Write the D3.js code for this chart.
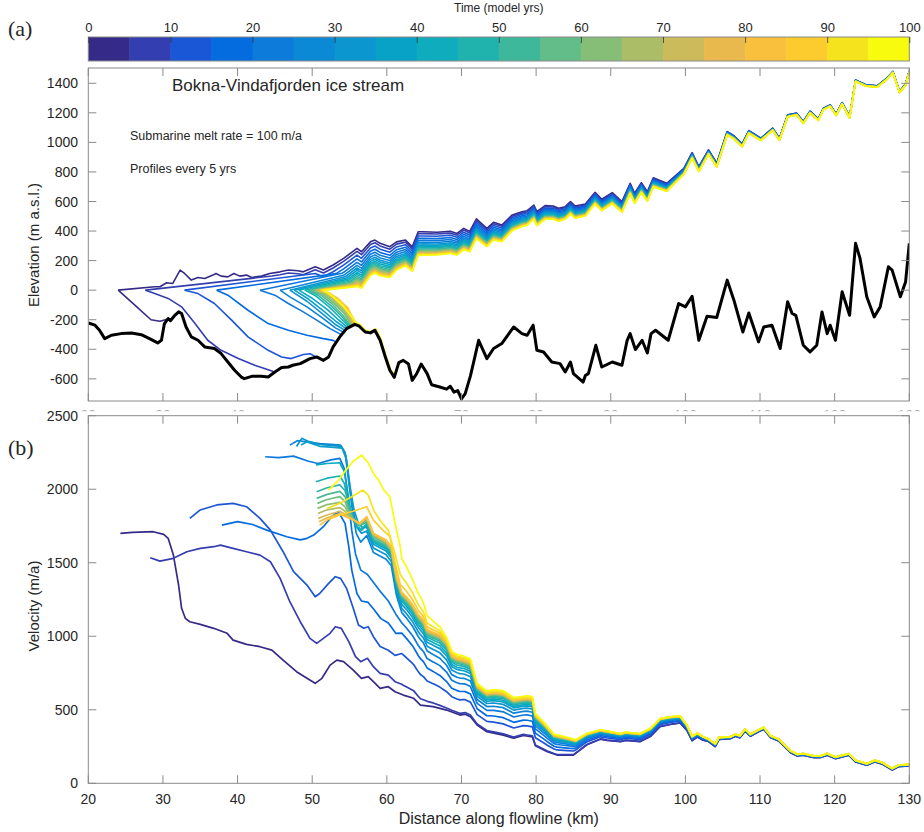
<!DOCTYPE html>
<html><head><meta charset="utf-8">
<script src="https://cdn.jsdelivr.net/npm/d3@7"></script>
<style>body{margin:0;background:#fff}svg{display:block}text{fill:#262626}</style>
</head><body><svg id="c" width="924" height="832"></svg>
<script>
// ---------------- DATA ----------------
const profileTimes = [0,5,10,15,20,25,30,35,40,45,50,55,60,65,70,75,80,85,90,95,100];
const cbTicks = [0,10,20,30,40,50,60,70,80,90,100];
const xTicks = [20,30,40,50,60,70,80,90,100,110,120,130];
const yTicksA = [-600,-400,-200,0,200,400,600,800,1000,1200,1400];
const yTicksB = [0,500,1000,1500,2000,2500];

// bed topography (km, m a.s.l.)
const bed = [[20,-222],[20.9,-237],[21.5,-271],[22.2,-328],[23.1,-305],[24.4,-294],[25.8,-290],[27.1,-301],[28.2,-328],[29.3,-357],[29.8,-339],[30.2,-226],[30.7,-192],[31.0,-207],[31.6,-170],[32.1,-147],[32.5,-158],[33.1,-249],[33.8,-316],[34.7,-339],[35.6,-384],[36.9,-395],[37.8,-429],[38.7,-486],[39.6,-542],[40.5,-588],[40.9,-599],[41.9,-583],[43.2,-583],[44.1,-588],[45.0,-554],[45.9,-524],[46.8,-520],[47.4,-508],[48.4,-497],[49.7,-463],[50.6,-452],[51.5,-475],[52.2,-452],[52.8,-384],[53.7,-316],[54.6,-260],[55.7,-231],[56.3,-244],[57.1,-283],[57.8,-289],[58.4,-271],[59.1,-339],[59.8,-452],[60.4,-542],[61.0,-590],[61.6,-490],[62.2,-475],[62.9,-500],[63.4,-610],[64.0,-565],[64.6,-500],[65.4,-565],[66.0,-640],[67.1,-655],[68.0,-670],[68.5,-650],[69.0,-690],[69.5,-680],[70.0,-735],[70.5,-700],[71.2,-580],[71.8,-450],[72.3,-339],[73.4,-463],[74.3,-395],[75.4,-361],[77.0,-249],[78.1,-294],[78.8,-305],[79.6,-237],[80.1,-407],[81.0,-418],[82.1,-486],[83.2,-497],[83.9,-554],[84.6,-486],[85.0,-565],[86.3,-622],[86.6,-577],[87.0,-565],[88.0,-373],[88.8,-520],[90.2,-486],[91.5,-508],[92.2,-339],[92.6,-294],[93.3,-402],[94.2,-339],[94.9,-425],[95.4,-294],[96.0,-271],[97.7,-339],[99.1,-90],[100.0,-113],[100.9,-41],[101.8,-339],[102.9,-176],[104.2,-185],[105.6,68],[106.5,-68],[107.7,-283],[108.5,-154],[109.8,-350],[110.5,-249],[111.6,-237],[112.7,-395],[113.7,-79],[114.3,-158],[114.8,-170],[115.8,-373],[116.7,-418],[117.6,-373],[118.3,-147],[119.0,-294],[119.4,-237],[120.1,-339],[121.0,-11],[122.0,-170],[122.8,317],[123.4,215],[124.3,-45],[125.3,-181],[126.1,-113],[127.2,158],[127.7,136],[128.8,-45],[129.5,56],[130.0,317]];

// ice surface at t = 0 (km, m)
const surfaceT0 = [[24.0,0],[28.9,23],[29.6,23],[30.5,50],[31.3,45],[32.3,136],[32.9,113],[33.8,68],[34.7,86],[35.6,79],[36.7,102],[37.1,113],[37.8,95],[38.7,90],[39.5,113],[40.3,95],[41.2,102],[41.9,86],[43.2,95],[44.3,113],[45.7,124],[46.8,136],[48.1,131],[48.8,124],[50.4,158],[51.5,136],[52.8,170],[54.2,215],[56.0,283],[56.6,260],[57.8,327],[58.4,339],[59.1,317],[60.4,294],[61.3,327],[62.5,339],[63.4,294],[64.2,395],[64.9,395],[66.7,392],[68.5,398],[69.4,384],[70.3,418],[71.1,398],[72.0,482],[73.4,418],[74.3,459],[75.4,441],[76.8,509],[78.1,531],[78.8,538],[79.7,576],[80.1,531],[81.2,572],[82.3,570],[83.0,554],[83.9,565],[84.6,599],[85.2,570],[86.6,583],[87.9,662],[88.8,615],[90.2,660],[91.5,599],[92.6,723],[93.2,656],[94.1,727],[94.9,666],[95.7,761],[97.5,723],[99.8,825],[100.9,931],[101.8,836],[103.1,949],[104.2,859],[105.6,1073],[106.5,1045],[107.6,990],[108.5,1080],[110.1,1028],[111.7,1096],[112.6,1028],[113.7,1186],[114.9,1198],[115.8,1141],[116.7,1211],[117.8,1160],[118.5,1232],[119.4,1254],[120.2,1192],[121.0,1270],[122.0,1175],[122.8,1422],[124.2,1390],[125.7,1383],[127.0,1435],[127.8,1480],[128.7,1345],[129.5,1395],[130.0,1484]];
// surface lowering between t = 0 and t = 100 (km, m)
const drawdown100 = [[24,250],[50,250],[56,256],[58,225],[60,215],[62,178],[64,160],[68,150],[70,145],[74,120],[78,100],[84,85],[90,75],[96,62],[100,40],[104,25],[110,15],[120,10],[130,8]];
// share of that lowering reached by each profile
const thinFrac = [0,0.08,0.18,0.28,0.37,0.45,0.52,0.58,0.64,0.69,0.74,0.78,0.82,0.85,0.88,0.91,0.93,0.95,0.97,0.985,1.0];
// calving front and surface grounding position of each profile (km)
const frontX  = [24.0,27.65,32.9,37.2,43.0,45.7,47.0,47.6,48.2,49.0,49.4,49.8,50.1,50.4,50.6,50.8,51.0,51.1,51.2,51.3,51.5];
const groundX = [24.0,44.6,50.4,53.2,54.0,54.2,54.4,54.6,54.8,55.0,55.1,55.2,55.3,55.4,55.5,55.6,55.7,55.8,55.9,55.9,55.9];
// ice shelf base of each profile
const shelfBase = [
 [[24.0,0],[26.2,-100],[28.4,-200],[29.6,-210],[30.7,-195]],
 [[27.65,0],[28.9,-23],[30.7,-56],[32.5,-113],[34.3,-226],[36.0,-339],[37.8,-407],[40.1,-463],[42.3,-508],[44.8,-550]],
 [[32.9,0],[34.7,-23],[36.9,-90],[39.2,-203],[41.4,-316],[44.1,-407],[45.9,-452],[47.2,-463],[48.8,-435],[49.7,-430],[50.4,-448]],
 [[37.2,0],[38.7,-34],[41.4,-136],[44.1,-226],[46.8,-271],[49.3,-305],[51.5,-328],[52.8,-340],[53.2,-350]],
 [[43.0,0],[45.0,-34],[46.8,-90],[48.8,-147],[50.6,-203],[52.4,-260],[53.7,-296],[54.0,-298]],
 [[45.7,0],[47.0,-45],[49.3,-113],[51.5,-192],[53.1,-255],[54.2,-285]],
 [[47.0,0],[49.3,-75],[51.5,-165],[53.1,-232],[54.4,-272]],
 [[47.6,0],[49.5,-60],[51.5,-140],[53.2,-212],[54.6,-262]],
 [[48.2,0],[50.0,-55],[52.0,-130],[53.5,-200],[54.8,-255]],
 [[49.0,0],[50.5,-40],[52.3,-115],[53.8,-190],[55.0,-250]],
 [[49.4,0],[50.8,-35],[52.5,-105],[54.0,-180],[55.1,-247]],
 [[49.8,0],[51.1,-30],[52.7,-95],[54.1,-170],[55.2,-244]],
 [[50.1,0],[51.4,-28],[52.9,-88],[54.3,-160],[55.3,-240]],
 [[50.4,0],[51.6,-25],[53.0,-80],[54.4,-150],[55.4,-237]],
 [[50.6,0],[51.8,-22],[53.1,-72],[54.5,-142],[55.5,-234]],
 [[50.8,0],[52.0,-20],[53.2,-65],[54.6,-135],[55.6,-232]],
 [[51.0,0],[52.1,-18],[53.3,-58],[54.7,-128],[55.7,-231]],
 [[51.1,0],[52.2,-17],[53.4,-54],[54.8,-122],[55.8,-230]],
 [[51.2,0],[52.4,-25],[53.7,-75],[55.0,-150],[55.9,-222],[56.4,-236],[57.1,-275]],
 [[51.3,0],[52.6,-35],[54.0,-95],[55.2,-168],[55.9,-222],[56.4,-236],[57.2,-275],[57.9,-282],[58.5,-262],[59.2,-330]],
 [[51.5,0],[52.8,-45],[54.2,-113],[55.3,-181],[55.9,-222],[56.4,-236],[57.2,-275],[57.9,-282],[58.5,-262],[59.2,-330],[59.9,-445],[60.5,-535],[61.0,-570]]
];

// velocity at t = 0 (km, m/a)
const velT0 = [[24.3,1700],[25.9,1707],[28.7,1711],[30.1,1693],[30.7,1666],[31.4,1552],[32.1,1348],[32.5,1190],[33.0,1122],[33.6,1099],[35.0,1081],[36.8,1054],[38.6,1020],[39.4,974],[41.2,945],[43.0,929],[44.6,906],[46.1,838],[47.9,759],[49.3,714],[50.4,680],[51.3,714],[52.4,804],[53.3,838],[54.2,827],[55.5,770],[56.6,714],[57.5,725],[58.2,691],[59.1,646],[60.2,657],[61.1,623],[62.2,600],[63.6,578],[64.5,532],[66.2,521],[68.0,498],[69.8,464],[70.5,470],[71.2,453],[72.1,396],[73.4,351],[75.6,328],[77.0,306],[78.3,325],[79.5,315],[79.9,255],[81.5,215],[82.8,192],[85.0,192],[85.6,215],[86.8,262],[88.6,300],[89.5,292],[91.3,283],[92.0,292],[93.9,283],[95.3,318],[96.6,385],[98.0,400],[99.3,410],[100.2,360],[100.9,290],[101.6,315],[102.3,295],[103.1,284],[104.0,250],[104.5,298],[106.0,303],[106.7,320],[107.3,310],[108.0,355],[108.7,320],[109.6,345],[110.5,368],[111.4,311],[112.5,288],[114.1,208],[115.0,186],[115.8,191],[117.2,175],[118.1,175],[119.0,191],[120.1,168],[121.9,191],[122.8,146],[124.3,123],[125.4,146],[126.4,130],[127.7,91],[128.6,114],[130.0,118]];
// upper edge of the late (orange) velocity bundle
const velRef = [[62.0,1300],[62.6,1270],[63.4,1220],[64.2,1150],[64.9,1110],[65.4,1045],[66.3,1025],[67.1,1010],[68.0,960],[68.7,870],[69.4,850],[70.3,840],[71.2,820],[72.1,660],[73.4,610],[74.3,618],[75.6,610],[77.0,565],[78.8,578],[79.5,570],[79.9,460],[81.1,400],[82.4,325],[84.2,305],[85.3,290],[86.8,335],[88.6,360],[89.5,352],[91.3,335],[92.0,345],[93.9,335],[95.3,370],[96.6,437],[98.0,450],[99.3,455],[100.2,395],[100.9,318],[101.6,340],[102.3,318],[103.1,300],[104.0,268],[104.5,312],[106.0,315],[106.7,333],[107.3,323],[108.0,368],[108.7,333],[109.6,358],[110.5,380],[111.4,323],[112.5,300],[114.1,220],[115.0,197],[115.8,202],[117.2,186],[118.1,186],[119.0,202],[120.1,178],[121.9,201],[122.8,156],[124.3,133],[125.4,156],[126.4,140],[127.7,101],[128.6,124],[130.0,128]];
// position of each profile between velT0 and velRef, at 62 km and from 68 km on
const velFrac62 = [0,0.1,0.4,0.6,0.7,0.8,0.84,0.88,0.91,0.93,0.945,0.955,0.965,0.975,0.98,0.985,0.99,1.0,1.06,1.15,1.33];
const velFrac68 = [0,0.03,0.27,0.42,0.56,0.66,0.74,0.80,0.84,0.88,0.91,0.93,0.95,0.96,0.97,0.98,0.99,1.0,1.02,1.04,1.07];
// velocity near the calving front for each profile (km, m/a)
const velFront = [
 [],
 [[28.3,1534],[29.6,1511],[31.4,1530],[33.2,1575],[35.0,1598],[36.8,1609],[37.7,1620],[39.4,1598],[41.2,1575],[43.0,1552],[44.4,1507],[45.7,1394],[47.0,1235],[48.4,1099],[49.7,986],[50.6,952],[51.5,986],[52.4,1020],[53.1,1065],[53.9,1054],[54.9,963],[55.8,861],[56.5,827],[57.4,850],[58.2,793],[59.1,748],[60.2,736],[61.1,691]],
 [[33.6,1802],[35.0,1859],[37.2,1893],[39.4,1904],[41.2,1881],[43.0,1802],[44.4,1722],[46.1,1575],[47.5,1439],[49.3,1348],[50.4,1269],[51.0,1291],[52.2,1360],[53.1,1405],[53.8,1394],[54.6,1326],[55.5,1190],[56.2,1076],[56.9,1054],[57.5,1065],[58.2,997],[59.1,930],[60.2,905],[61.1,870]],
 [[37.9,1756],[40.0,1780],[42.0,1760],[43.9,1722],[46.6,1677],[48.4,1655],[49.3,1666],[50.2,1688],[51.5,1745],[52.6,1813],[53.5,1847],[54.4,1768],[54.9,1609],[55.3,1450],[56.0,1290],[56.6,1240],[57.5,1230],[58.3,1180],[59.2,1120],[60.2,1090],[61.2,1020]],
 [[43.7,2221],[45.5,2215],[47.5,2225],[49.5,2190],[50.8,2175],[52.5,2200],[53.7,2210],[54.3,2140],[54.8,1950],[55.3,1720],[55.8,1560],[56.5,1450],[57.4,1420],[58.3,1360],[59.2,1300],[60.2,1240],[61.2,1150]],
 [[47.0,2300],[48.0,2330],[49.5,2320],[51.0,2310],[52.5,2305],[53.8,2300],[54.4,2250],[54.9,2050],[55.4,1850],[55.9,1700],[56.5,1640],[57.3,1685],[58.2,1570],[59.9,1524],[60.6,1479],[61.3,1275]],
 [[47.9,2290],[48.6,2346],[49.5,2325],[51.0,2305],[52.5,2298],[53.9,2292],[54.5,2230],[55.0,2030],[55.5,1850],[56.0,1740],[56.6,1700],[57.3,1715],[58.2,1600],[59.9,1554],[60.6,1509],[61.3,1305]],
 [[48.5,2300],[49.3,2322],[51.0,2292],[52.5,2286],[54.0,2280],[54.6,2200],[55.1,2010],[55.6,1860],[56.1,1780],[56.7,1740],[57.3,1740],[58.2,1625],[59.9,1579],[60.6,1534],[61.3,1330]],
 [[50.5,2165],[52.0,2175],[53.7,2180],[54.3,2120],[54.8,1960],[55.3,1820],[56.0,1740],[56.6,1720],[57.3,1755],[58.2,1640],[59.9,1594],[60.6,1549],[61.3,1345]],
 [[50.5,2051],[52.0,2075],[53.7,2090],[54.3,2040],[54.8,1920],[55.3,1810],[56.0,1745],[56.6,1730],[57.3,1765],[58.2,1650],[59.9,1604],[60.6,1559],[61.3,1355]],
 [[50.6,1983],[52.0,2010],[53.7,2030],[54.4,1990],[55.0,1880],[55.6,1790],[56.3,1750],[57.3,1775],[58.2,1660],[59.9,1614],[60.6,1569],[61.3,1365]],
 [[50.6,1938],[52.0,1965],[53.7,1985],[54.4,1950],[55.0,1850],[55.6,1790],[56.3,1755],[57.3,1785],[58.2,1675],[59.9,1624],[60.6,1579],[61.3,1375]],
 [[50.7,1904],[52.0,1930],[53.7,1950],[54.4,1915],[55.0,1835],[55.6,1790],[56.3,1760],[57.3,1790],[58.2,1680],[59.9,1629],[60.6,1584],[61.3,1380]],
 [[50.7,1870],[52.0,1895],[53.7,1910],[54.4,1880],[55.0,1820],[55.6,1790],[56.3,1762],[57.3,1795],[58.2,1685],[59.9,1634],[60.6,1589],[61.3,1385]],
 [[50.8,1836],[52.0,1860],[53.7,1875],[54.4,1850],[55.0,1810],[55.6,1790],[56.3,1765],[57.3,1800],[58.2,1690],[59.9,1639],[60.6,1594],[61.3,1390]],
 [[50.8,1802],[52.0,1825],[53.7,1850],[54.4,1830],[55.0,1805],[55.6,1790],[56.3,1766],[57.3,1805],[58.2,1695],[59.9,1644],[60.6,1599],[61.3,1395]],
 [[50.9,1779],[52.0,1805],[53.7,1835],[54.4,1820],[55.0,1802],[55.6,1790],[56.3,1767],[57.3,1810],[58.2,1698],[59.9,1649],[60.6,1604],[61.3,1400]],
 [[51.0,1756],[52.0,1790],[53.7,1830],[54.4,1815],[55.1,1802],[55.6,1790],[56.4,1768],[57.3,1813],[58.2,1700],[59.9,1654],[60.6,1609],[61.3,1405]],
 [[52.3,1800],[54.0,1830],[55.5,1850],[57.3,1881],[58.2,1790],[59.5,1720],[60.4,1680],[61.1,1500],[61.8,1350]],
 [[52.0,1870],[53.5,1900],[55.0,1940],[56.8,1994],[57.5,1960],[58.3,1850],[59.2,1780],[60.2,1720],[61.1,1560],[61.8,1420]],
 [[52.2,1994],[53.5,2060],[54.5,2130],[55.5,2190],[56.6,2232],[57.5,2180],[58.3,2100],[58.9,2062],[59.6,1994],[60.4,1949],[61.1,1768],[61.8,1609]]
];

// ---------------- STYLE / SCALES ----------------
const SANS = '"Liberation Sans",Arial,sans-serif';
const SERIF = '"Liberation Serif","DejaVu Serif",serif';
const PARULA = [[0,'#352a87'],[0.048,'#353dad'],[0.095,'#2053d4'],[0.143,'#0268e1'],[0.19,'#0d75dc'],[0.30,'#0c93d2'],[0.40,'#07a9c2'],[0.49,'#25b5a9'],[0.60,'#71bf80'],[0.70,'#b7bd64'],[0.79,'#e9b94e'],[0.86,'#ffc337'],[0.90,'#fccd2e'],[0.95,'#f5e41d'],[1,'#f9fb0e']];
const parula = d3.scaleLinear().domain(PARULA.map(d=>d[0])).range(PARULA.map(d=>d[1])).interpolate(d3.interpolateRgb).clamp(true);
const timeScale = d3.scaleLinear().domain([0,100]).range([0,1]);

const L = 88.3, R = 909.3;
const A_TOP = 68, A_BOT = 401, B_TOP = 415.7, B_BOT = 783.3;
const x = d3.scaleLinear().domain([20,130]).range([L,R]);
const yA = d3.scaleLinear().domain([-750,1500]).range([A_BOT,68.5]);
const yB = d3.scaleLinear().domain([0,2500]).range([B_BOT,B_TOP]);
const AX = '#8a8a8a';

function interp(arr, xv){
  if (xv <= arr[0][0]) return arr[0][1];
  if (xv >= arr[arr.length-1][0]) return arr[arr.length-1][1];
  const i = d3.bisector(d=>d[0]).right(arr, xv);
  const a = arr[i-1], b = arr[i], t = (xv-a[0])/(b[0]-a[0]);
  return a[1] + t*(b[1]-a[1]);
}
function surfacePts(k){
  if (k === 0) return surfaceT0;
  const f = thinFrac[k], xj = groundX[k];
  const pts = [[frontX[k],0],[xj, interp(surfaceT0,xj) - f*interp(drawdown100,xj)]];
  surfaceT0.forEach(([xx,z]) => { if (xx > xj) pts.push([xx, z - f*interp(drawdown100,xx)]); });
  return pts;
}
const velKnots = Array.from(new Set(velT0.map(d=>d[0]).concat(velRef.map(d=>d[0])))).filter(v=>v>=62).sort((a,b)=>a-b);
function velPts(k){
  if (k === 0) return velT0;
  const pts = velFront[k].slice();
  velKnots.forEach(xx => {
    const t = Math.max(0, Math.min(1, (xx-62)/6));
    const g = velFrac62[k] + (velFrac68[k]-velFrac62[k])*t;
    const v0 = interp(velT0, xx);
    pts.push([xx, v0 + g*(interp(velRef,xx) - v0)]);
  });
  return pts;
}
function txt(sel, s, size, family){ return sel.append('text').style('font-family', family || SANS).style('font-size', size+'px').text(s); }

const svg = d3.select('#c');
const defs = svg.append('defs');
defs.append('clipPath').attr('id','clipA').append('rect').attr('x',L).attr('y',A_TOP).attr('width',R-L).attr('height',A_BOT-A_TOP);
defs.append('clipPath').attr('id','clipB').append('rect').attr('x',L).attr('y',B_TOP).attr('width',R-L).attr('height',B_BOT-B_TOP);
defs.append('clipPath').attr('id','clipLab').append('rect').attr('x',0).attr('y',409).attr('width',924).attr('height',2.2);

// ---------------- COLORBAR ----------------
const cbY0 = 37, cbY1 = 61;
const cbX = d3.scaleLinear().domain([0,100]).range([L,R]);
const bands = d3.range(20);
svg.append('g').selectAll('rect').data(bands).join('rect')
  .attr('x', i => cbX(i*5)).attr('y', cbY0)
  .attr('width', cbX(5)-cbX(0)+0.5).attr('height', cbY1-cbY0)
  .attr('fill', i => parula(i/19));
svg.append('rect').attr('x',L).attr('y',cbY0).attr('width',R-L).attr('height',cbY1-cbY0).attr('fill','none').attr('stroke',AX).attr('stroke-width',1);
const cbAxis = d3.axisTop(cbX).tickValues(cbTicks).tickSizeInner(-6).tickSizeOuter(0).tickPadding(5);
const cbg = svg.append('g').attr('transform',`translate(0,${cbY0})`).call(cbAxis);
cbg.select('.domain').remove();
cbg.selectAll('.tick line').attr('stroke','#333').attr('stroke-width',0.8);
cbg.selectAll('.tick text').style('font-size','13px').style('font-family',SANS).attr('fill','#262626');
txt(svg,'Time (model yrs)',12).attr('x',(L+R)/2).attr('y',12).attr('text-anchor','middle');

// ---------------- FRAME HELPER ----------------
function frame(top, bot, ys, yticks){
  const g = svg.append('g');
  const line = (x1,y1,x2,y2)=>g.append('line').attr('x1',x1).attr('y1',y1).attr('x2',x2).attr('y2',y2).attr('stroke',AX).attr('stroke-width',1);
  xTicks.forEach(t => { const px = x(t); line(px,bot,px,bot-8); line(px,top,px,top+8); });
  yticks.forEach(t => { const py = ys(t); line(L,py,L+8,py); line(R,py,R-8,py);
    txt(g, t, 14).attr('x',78).attr('y',py).attr('dy','0.36em').attr('text-anchor','end'); });
  g.append('rect').attr('x',L).attr('y',top).attr('width',R-L).attr('height',bot-top).attr('fill','none').attr('stroke',AX).attr('stroke-width',1);
}

// ---------------- PANEL A ----------------
const lineA = d3.line().x(d=>x(d[0])).y(d=>yA(d[1]));
const gA = svg.append('g').attr('clip-path','url(#clipA)');
profileTimes.forEach((t,k) => {
  const c = parula(timeScale(t));
  gA.append('path').attr('d', lineA(shelfBase[k])).attr('fill','none').attr('stroke',c).attr('stroke-width',1.6).attr('stroke-linejoin','round');
  gA.append('path').attr('d', lineA(surfacePts(k))).attr('fill','none').attr('stroke',c).attr('stroke-width',1.6).attr('stroke-linejoin','round');
});
gA.append('path').attr('d', lineA(bed)).attr('fill','none').attr('stroke','#000').attr('stroke-width',3).attr('stroke-linejoin','round');
frame(A_TOP, A_BOT, yA, yTicksA);
// x tick labels of panel (a), hidden behind panel (b) except their top edge
const labA = svg.append('g').attr('clip-path','url(#clipLab)');
xTicks.forEach(t => txt(labA, t, 14).attr('x',x(t)).attr('y',420).attr('text-anchor','middle').style('fill','#aaa'));
txt(svg,'Elevation (m a.s.l.)',15).attr('transform','translate(39,245) rotate(-90)').attr('text-anchor','middle');
txt(svg,'Bokna-Vindafjorden ice stream',17).attr('x',172).attr('y',91);
txt(svg,'Submarine melt rate = 100 m/a',12.5).attr('x',130).attr('y',139.5);
txt(svg,'Profiles every 5 yrs',12.5).attr('x',130).attr('y',172.5);
txt(svg,'(a)',22,SERIF).attr('x',8).attr('y',36);

// ---------------- PANEL B ----------------
const lineB = d3.line().x(d=>x(d[0])).y(d=>yB(d[1]));
const gB = svg.append('g').attr('clip-path','url(#clipB)');
profileTimes.forEach((t,k) => {
  gB.append('path').attr('d', lineB(velPts(k))).attr('fill','none').attr('stroke',parula(timeScale(t))).attr('stroke-width',1.7).attr('stroke-linejoin','round');
});
frame(B_TOP, B_BOT, yB, yTicksB);
const xlab = svg.append('g');
xTicks.forEach(t => txt(xlab, t, 14).attr('x',x(t)).attr('y',804).attr('text-anchor','middle'));
txt(svg,'Distance along flowline (km)',16).attr('x',(L+R)/2).attr('y',824).attr('text-anchor','middle');
txt(svg,'Velocity (m/a)',15).attr('transform','translate(39,606) rotate(-90)').attr('text-anchor','middle');
txt(svg,'(b)',22,SERIF).attr('x',8).attr('y',455);
</script></body></html>
